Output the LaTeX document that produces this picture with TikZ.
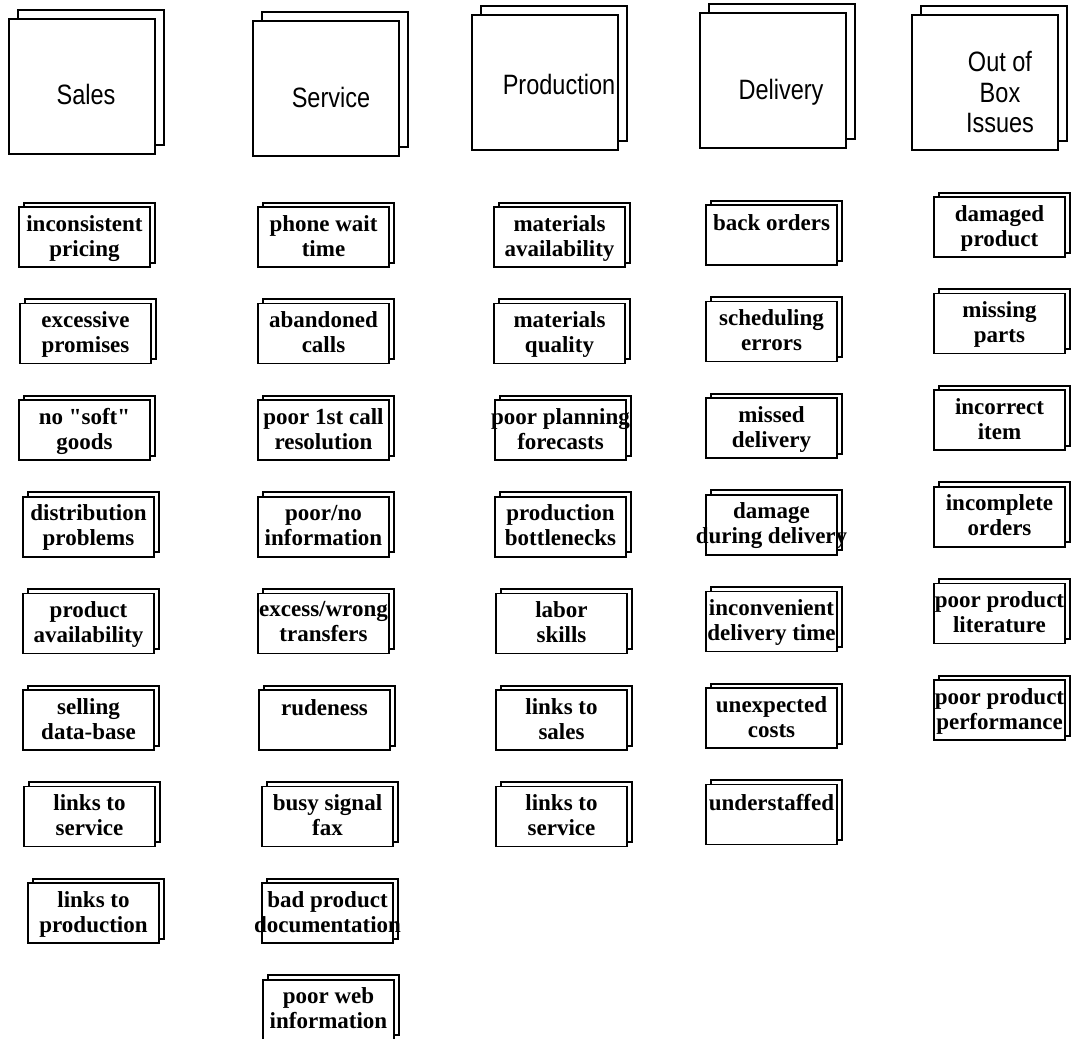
\documentclass[tikz,border=0pt]{standalone}
\usepackage{fontspec}
\setmainfont{Liberation Serif}
\newfontfamily\headfont[FakeStretch=0.84]{Liberation Sans}
\usetikzlibrary{positioning, shadows}

\tikzset{
    headbox/.style={draw, fill=white, line width=0.8pt, minimum width=73pt,
        minimum height=67.5pt, inner sep=0pt,
        copy shadow={shadow xshift=4.5pt, shadow yshift=4.5pt, draw=black, line width=1pt}},
    headtext/.style={font={\headfont\fontsize{14pt}{15.25pt}\selectfont},
        align=center, inner sep=0pt},
    cardbox/.style={draw, fill=white, line width=0.8pt, minimum width=65.5pt,
        minimum height=30pt, inner sep=0pt,
        copy shadow={shadow xshift=2.5pt, shadow yshift=2.25pt, draw=black, line width=1pt}},
    cardtext/.style={font={\fontsize{11.5pt}{12.5pt}\selectfont\bfseries},
        align=center, inner sep=0pt, execute at begin node=\strut}
}

\begin{document}
\begin{tikzpicture}[x=0.5pt, y=-0.5pt]
        \useasboundingbox (0,0) rectangle (1072,1039);
        % column headers
        \foreach \i/\x/\y/\dx/\dy/\txt in {
            1/82/86.5/4/8/{Sales},
            2/326/88.5/5/9/{Service},
            3/545/82.5/14/2/{Production},
            4/773/80.5/8/12/{Delivery},
            5/985/82.5/15/10/{Out of\\Box\\Issues}}
        {
            \node[headbox] (h\i) at (\x,\y) {};
            \node[headtext, xshift=\dx*0.5pt, yshift=-\dy*0.5pt] (ht\i) at (h\i.center) {\txt};
        }
        % Sales
        \foreach \i/\dx/\txt in {
            1/0/{inconsistent\\pricing},
            2/1/{excessive\\promises},
            3/0/{no \textquotedbl soft\textquotedbl\\goods},
            4/4/{distribution\\problems},
            5/4/{product\\availability},
            6/4/{selling\\data-base},
            7/5/{links to\\service},
            8/9/{links to\\production}}
        {
            \pgfmathsetmacro{\y}{237+96.6*(\i-1)}
            \node[cardbox] (sa\i) at (84.5+\dx,\y) {};
            \node[cardtext, below=4.25pt of sa\i.north] (sat\i) {\txt};
        }
        % Service
        \foreach \i/\dx/\txt in {
            1/0/{phone wait\\time},
            2/0/{abandoned\\calls},
            3/0/{poor 1st call\\resolution},
            4/0/{poor/no\\information},
            5/0/{excess/wrong\\transfers},
            6/1/{rudeness},
            7/4/{busy signal\\fax},
            8/4/{bad product\\documentation},
            9/5/{poor web\\information}}
        {
            \pgfmathsetmacro{\y}{237+96.6*(\i-1)}
            \node[cardbox] (se\i) at (323.5+\dx,\y) {};
            \node[cardtext, below=4.25pt of se\i.north] (set\i) {\txt};
        }
        % Production
        \foreach \i/\dx/\txt in {
            1/0/{materials\\availability},
            2/0/{materials\\quality},
            3/1/{poor planning\\forecasts},
            4/1/{production\\bottlenecks},
            5/2/{labor\\skills},
            6/2/{links to\\sales},
            7/2/{links to\\service}}
        {
            \pgfmathsetmacro{\y}{237+96.6*(\i-1)}
            \node[cardbox] (pr\i) at (559.5+\dx,\y) {};
            \node[cardtext, below=4.25pt of pr\i.north] (prt\i) {\txt};
        }
        % Delivery
        \foreach \i/\dx/\txt in {
            1/0/{back orders},
            2/0/{scheduling\\errors},
            3/0/{missed\\delivery},
            4/0/{damage\\during delivery},
            5/0/{inconvenient\\delivery time},
            6/0/{unexpected\\costs},
            7/0/{understaffed}}
        {
            \pgfmathsetmacro{\y}{235+96.6*(\i-1)}
            \node[cardbox] (de\i) at (771.5+\dx,\y) {};
            \node[cardtext, below=4.25pt of de\i.north] (det\i) {\txt};
        }
        % Out of Box Issues
        \foreach \i/\dx/\txt in {
            1/0/{damaged\\product},
            2/0/{missing\\parts},
            3/0/{incorrect\\item},
            4/0/{incomplete\\orders},
            5/0/{poor product\\literature},
            6/0/{poor product\\performance}}
        {
            \pgfmathsetmacro{\y}{227+96.6*(\i-1)}
            \node[cardbox] (ob\i) at (999.5+\dx,\y) {};
            \node[cardtext, below=4.25pt of ob\i.north] (obt\i) {\txt};
        }
    \end{tikzpicture}
\end{document}
